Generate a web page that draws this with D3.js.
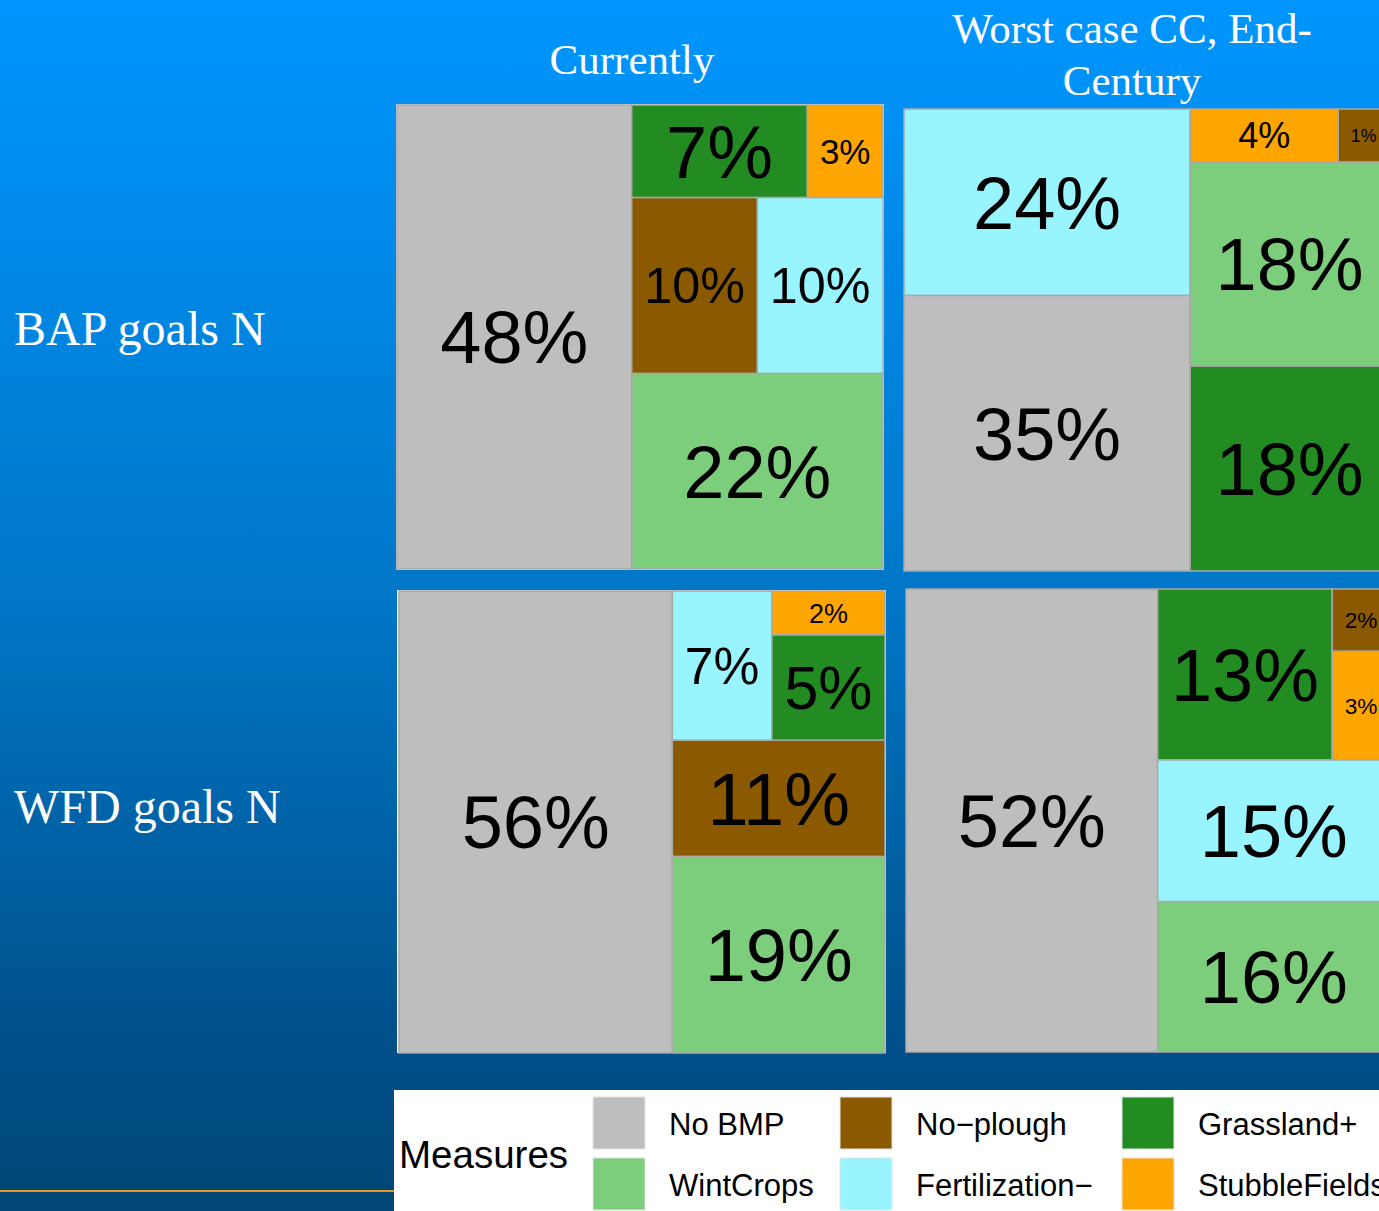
<!DOCTYPE html>
<html><head><meta charset="utf-8">
<script src="https://cdn.jsdelivr.net/npm/d3@7"></script>
<style>html,body{margin:0;padding:0;overflow:hidden;background:#004676}svg{display:block}</style>
</head><body>
<script>
// ---- data ----
const categories = ["No BMP", "WintCrops", "No\u2212plough", "Fertilization\u2212", "Grassland+", "StubbleFields"];
const colors = ["#bebebe", "#7ccd7c", "#8b5a00", "#98f5ff", "#228b22", "#ffa500"];
const rowLabels = ["BAP goals N", "WFD goals N"];
const colLabels = [["Currently"], ["Worst case CC, End-", "Century"]];
const bapCurrent = [48.3, 21.8, 9.8, 9.8, 7.2, 3.1];
const bapWorst   = [35.2, 18.1, 1.2, 23.8, 18.2, 3.5];
const wfdCurrent = [56.2, 18.6, 11.0, 6.6, 5.3, 2.2];
const wfdWorst   = [52.0, 15.6, 1.6, 14.7, 13.3, 2.8];
const legendTitle = "Measures";

// ---- layout ----
const W = 1379, H = 1211;
const svg = d3.select("body").append("svg").attr("width", W).attr("height", H);
const defs = svg.append("defs");
const grad = defs.append("linearGradient").attr("id", "bg").attr("x1", 0).attr("y1", 0).attr("x2", 0).attr("y2", 1);
[[0, "#0096ff"], [0.49, "#0077c8"], [0.86, "#00508a"], [1, "#004676"]].forEach(s =>
  grad.append("stop").attr("offset", s[0]).attr("stop-color", s[1]));
svg.append("rect").attr("width", W).attr("height", H).attr("fill", "url(#bg)");

const panels = [
  {vals: bapCurrent, x: 397, y: 105, w: 486, h: 464, frame: [396, 104, 488, 466]},
  {vals: bapWorst,   x: 904, y: 109, w: 485, h: 462},
  {vals: wfdCurrent, x: 399, y: 591, w: 486, h: 462, frame: [397, 590, 489, 463]},
  {vals: wfdWorst,   x: 906, y: 589, w: 484, h: 463}
];

const sans = "'Liberation Sans', Arial, sans-serif";
// measure text width in em
const probe = svg.append("text").attr("font-family", sans).attr("font-size", 100);
function emWidth(t) { probe.text(t); return probe.node().getComputedTextLength() / 100; }

panels.forEach(p => {
  if (p.frame) {
    svg.append("rect").attr("x", p.frame[0]).attr("y", p.frame[1]).attr("width", p.frame[2]).attr("height", p.frame[3]).attr("fill", "#ffffff");
  }
  const root = d3.hierarchy({children: categories.map((c, i) => ({name: c, idx: i, value: p.vals[i]}))})
    .sum(d => d.value || 0)
    .sort((a, b) => b.value - a.value);
  d3.treemap().tile(d3.treemapSquarify.ratio(1)).size([p.w, p.h])(root);
  const xs = d3.scaleLinear().domain([0, p.w]).range([p.x, p.x + p.w]);
  const ys = d3.scaleLinear().domain([0, p.h]).range([p.y + p.h, p.y]);
  const g = svg.append("g");
  const leaves = root.leaves();
  g.selectAll("rect").data(leaves).join("rect")
    .attr("x", d => xs(d.x0)).attr("y", d => ys(d.y1))
    .attr("width", d => xs(d.x1) - xs(d.x0)).attr("height", d => ys(d.y0) - ys(d.y1))
    .attr("fill", d => colors[d.data.idx])
    .attr("stroke", "#a8a8a8").attr("stroke-width", 1.5);
  g.selectAll("text").data(leaves).join("text")
    .each(function(d) {
      const label = Math.round(d.value) + "%";
      const w = xs(d.x1) - xs(d.x0), h = ys(d.y0) - ys(d.y1);
      const fs = Math.min(74, (w - 25) / emWidth(label), 0.975 * (h - 16));
      const cx = (xs(d.x0) + xs(d.x1)) / 2, cy = (ys(d.y1) + ys(d.y0)) / 2;
      d3.select(this).text(label)
        .attr("x", cx).attr("y", cy + 0.358 * fs)
        .attr("font-size", fs.toFixed(1))
        .attr("text-anchor", "middle")
        .attr("font-family", sans)
        .attr("fill", "#000");
    });
});
probe.remove();

// titles
const serif = "'Liberation Serif', 'Times New Roman', serif";
const colCenters = [632, 1132];
const colBaselines = [[74], [43, 95]];
colLabels.forEach((lines, i) => {
  lines.forEach((t, j) => {
    svg.append("text").text(t).attr("x", colCenters[i]).attr("y", colBaselines[i][j])
      .attr("text-anchor", "middle").attr("font-family", serif).attr("font-size", 43).attr("fill", "#fff");
  });
});
const rowBaselines = [345, 823];
rowLabels.forEach((t, i) => {
  svg.append("text").text(t).attr("x", 14).attr("y", rowBaselines[i])
    .attr("font-family", serif).attr("font-size", 48).attr("fill", "#fff");
});

// orange rule
svg.append("rect").attr("x", 0).attr("y", 1190).attr("width", 394).attr("height", 2).attr("fill", "#e8961e");

// legend
const lg = svg.append("g");
lg.append("rect").attr("x", 394).attr("y", 1090).attr("width", W - 394).attr("height", H - 1090).attr("fill", "#fff");
lg.append("text").text(legendTitle).attr("x", 399).attr("y", 1168)
  .attr("font-family", sans).attr("font-size", 38.5).attr("fill", "#000");
const colX = [593, 840, 1122];
const rowY = [1097, 1158];
categories.forEach((c, i) => {
  const col = Math.floor(i / 2), row = i % 2;
  lg.append("rect").attr("x", colX[col]).attr("y", rowY[row]).attr("width", 52).attr("height", 52)
    .attr("fill", colors[i]).attr("stroke", "#e4e4e4").attr("stroke-width", 1);
  lg.append("text").text(c).attr("x", colX[col] + 76).attr("y", rowY[row] + 38)
    .attr("font-family", sans).attr("font-size", 31).attr("fill", "#000");
});
</script>
</body></html>
